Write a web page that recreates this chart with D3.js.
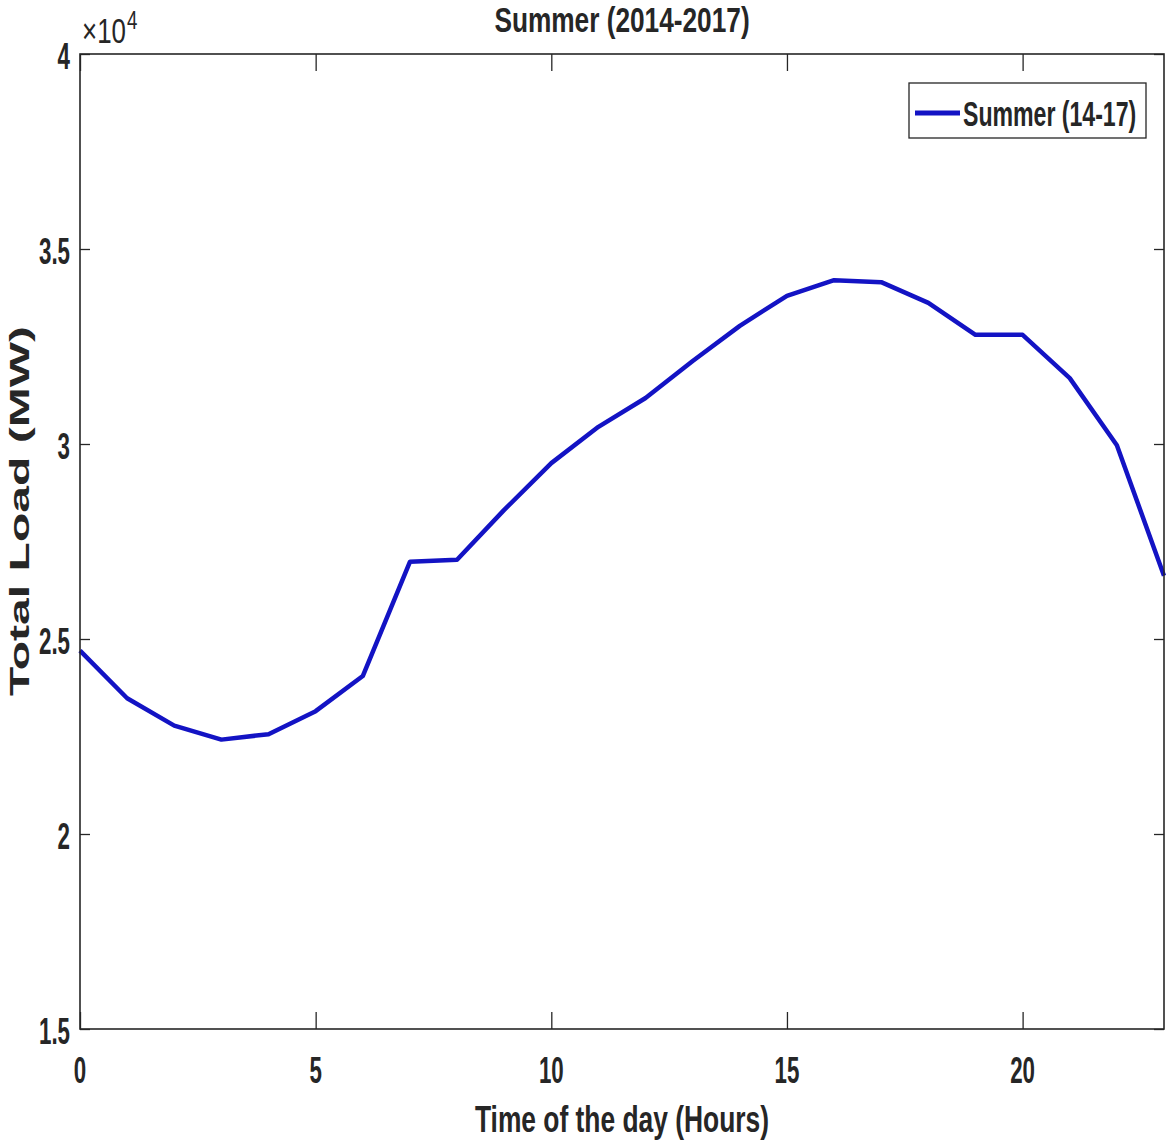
<!DOCTYPE html>
<html>
<head>
<meta charset="utf-8">
<script src="https://cdn.jsdelivr.net/npm/d3@7"></script>
<style>
  html, body { margin: 0; padding: 0; background: #fff; }
  svg { display: block; }
  text { font-family: "Liberation Sans", Arial, Helvetica, sans-serif; fill: #262626; }
</style>
</head>
<body>
<script>
// Average hourly load, summer 2014-2017
const hours = d3.range(0, 24);
const loadMW = [24700, 23480, 22780, 22420, 22560, 23150, 24050, 26980, 27030, 28310,
                29510, 30440, 31180, 32130, 33030, 33800, 34200, 34150, 33620, 32800,
                32800, 31690, 29970, 26620];
const seriesName = "Summer (14-17)";
const xTicks = [0, 5, 10, 15, 20];
const yTicks = [15000, 20000, 25000, 30000, 35000, 40000];
const yTickLabels = ["1.5", "2", "2.5", "3", "3.5", "4"];
const titleText = "Summer (2014-2017)";
const xLabelText = "Time of the day (Hours)";
const yLabelText = "Total Load (MW)";

const W = 1166, H = 1147;
const plot = { left: 80, right: 1164, top: 54, bottom: 1029 };

const svg = d3.select("body").append("svg").attr("width", W).attr("height", H);

const x = d3.scaleLinear().domain([0, 23]).range([plot.left, plot.right]);
const y = d3.scaleLinear().domain([15000, 40000]).range([plot.bottom, plot.top]);

// Text helper: condensed glyphs via a horizontal scale
function label(str, px, py, opt) {
  const o = Object.assign({ size: 36, sx: 0.62, anchor: "start", weight: "bold", rotate: 0 }, opt || {});
  return svg.append("text")
    .attr("transform", `translate(${px},${py}) rotate(${o.rotate}) scale(${o.sx},1)`)
    .attr("text-anchor", o.anchor)
    .attr("font-size", o.size)
    .attr("font-weight", o.weight)
    .text(str);
}

// Data line
const line = d3.line().x((d, i) => x(hours[i])).y(d => y(d));
svg.append("path")
  .datum(loadMW)
  .attr("d", line)
  .attr("fill", "none")
  .attr("stroke", "#1313c4")
  .attr("stroke-width", 4.5)
  .attr("stroke-linejoin", "round");

// Axes box with inward ticks on all four sides
const axisColor = "#262626";
const gx = svg.append("g").attr("transform", `translate(0,${plot.bottom})`)
  .call(d3.axisBottom(x).tickValues(xTicks).tickSize(-17).tickFormat(""));
const gxt = svg.append("g").attr("transform", `translate(0,${plot.top})`)
  .call(d3.axisTop(x).tickValues(xTicks).tickSize(-17).tickFormat(""));
const gy = svg.append("g").attr("transform", `translate(${plot.left},0)`)
  .call(d3.axisLeft(y).tickValues(yTicks).tickSize(-10).tickFormat(""));
const gyr = svg.append("g").attr("transform", `translate(${plot.right},0)`)
  .call(d3.axisRight(y).tickValues(yTicks).tickSize(-10).tickFormat(""));
[gx, gxt, gy, gyr].forEach(g => {
  g.selectAll(".domain").remove();
  g.selectAll("line").attr("stroke", axisColor).attr("stroke-width", 1.3);
});
svg.append("rect")
  .attr("x", plot.left).attr("y", plot.top)
  .attr("width", plot.right - plot.left).attr("height", plot.bottom - plot.top)
  .attr("fill", "none").attr("stroke", axisColor).attr("stroke-width", 1.6);

// Tick labels
xTicks.forEach(v => label(String(v), x(v), 1083, { anchor: "middle" }));
yTicks.forEach((v, i) => label(yTickLabels[i], 70, y(v) + 15, { anchor: "end" }));

// Exponent marker
label("\u00d710", 82, 43, { weight: "normal", sx: 0.72, size: 36 });
label("4", 127, 29, { weight: "normal", sx: 0.72, size: 26 });

// Title and axis labels
label(titleText, (plot.left + plot.right) / 2, 32, { anchor: "middle", size: 35, sx: 0.75 });
label(xLabelText, (plot.left + plot.right) / 2, 1132, { anchor: "middle", size: 37.7, sx: 0.70 });
label(yLabelText, 29, 511, { anchor: "middle", size: 27, sx: 1.78, rotate: -90 });

// Legend
const lg = { x: 909, y: 83, w: 237, h: 55 };
svg.append("rect")
  .attr("x", lg.x).attr("y", lg.y).attr("width", lg.w).attr("height", lg.h)
  .attr("fill", "#fff").attr("stroke", axisColor).attr("stroke-width", 1.3);
svg.append("line")
  .attr("x1", 915).attr("x2", 960).attr("y1", 113).attr("y2", 113)
  .attr("stroke", "#1313c4").attr("stroke-width", 5);
label(seriesName, 963, 126, { size: 35, sx: 0.66 });
</script>
</body>
</html>
